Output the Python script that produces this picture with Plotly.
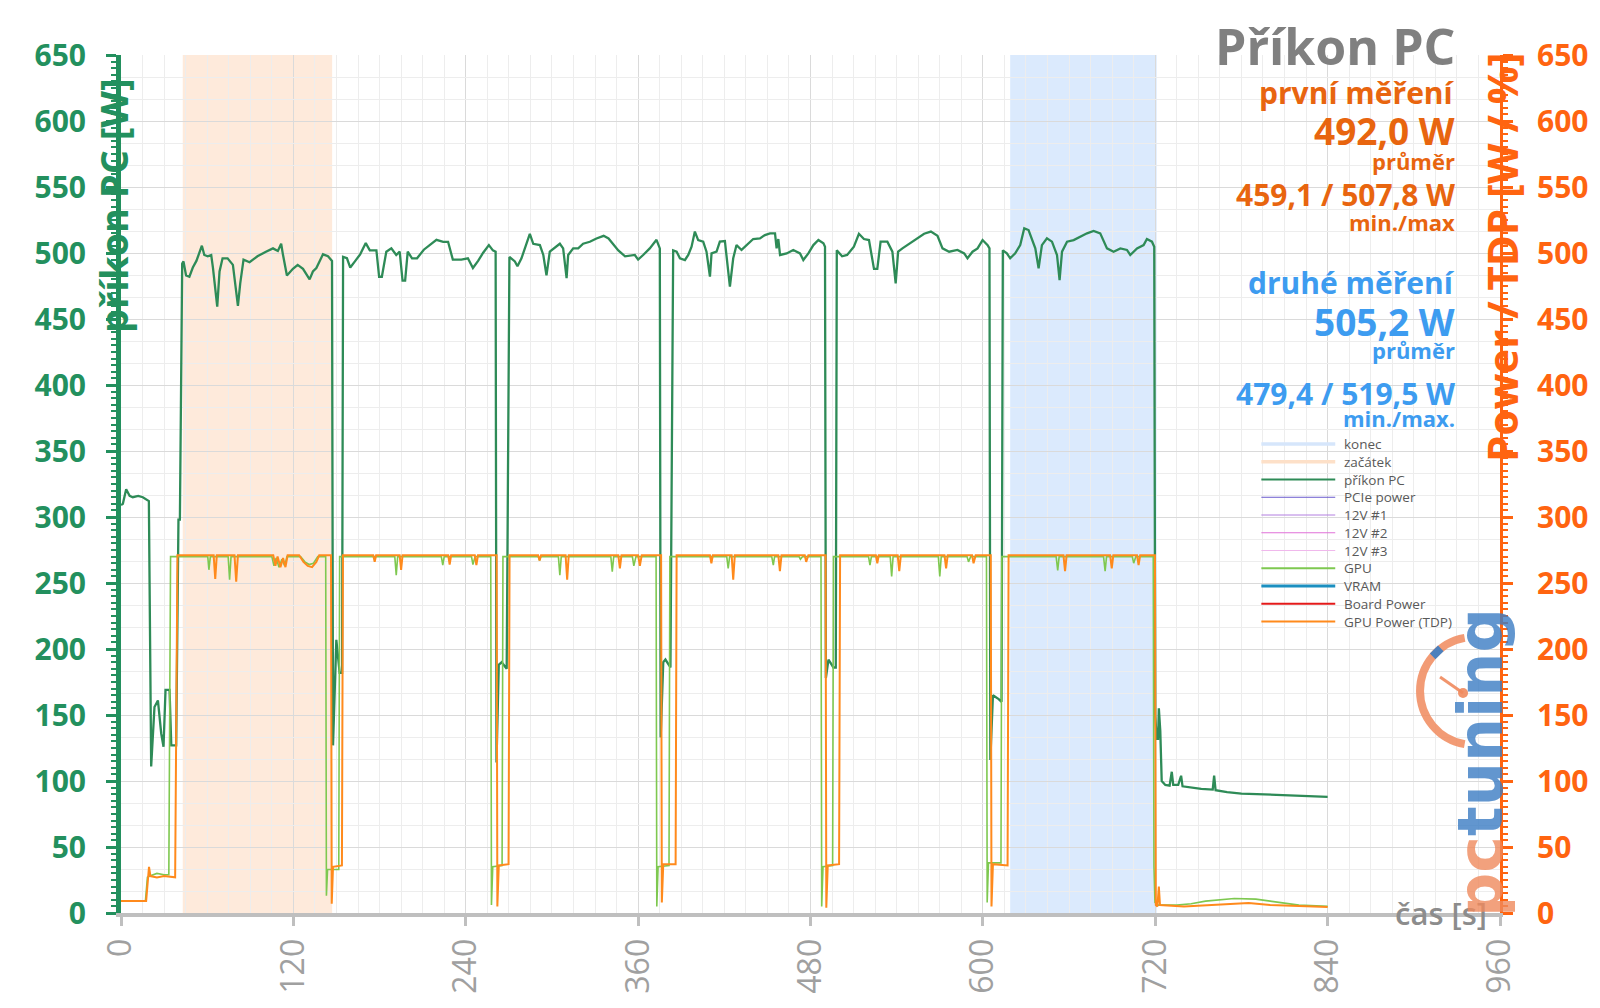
import math
import plotly.graph_objects as go

# ---------------- data ----------------
x_ticks = [0, 120, 240, 360, 480, 600, 720, 840, 960]
y_ticks = [0, 50, 100, 150, 200, 250, 300, 350, 400, 450, 500, 550, 600, 650]

zacatek_range = [43, 147]
konec_range = [619, 721]

pc_t = [0, 1.3, 3.6, 6, 8.2, 12, 15.2, 19.4, 21, 23.3, 25.7, 28, 29.6, 31, 33.8, 35, 38.4, 40, 41, 42.6,
        43.5, 45.3, 47.6, 50, 52.5, 56.3, 58, 60.4, 62.8, 64, 67, 68.6, 70.7, 74.2, 77.9, 81.4, 83, 85.3, 89.5,
        95, 100.9, 105.8, 109.2, 111.5, 112.7, 115.5, 119.7, 123, 126.7, 131.3, 133.6, 136, 140.6, 144.1, 146.9,
        147.6, 149.9, 150.8, 152.2, 153.9, 154.6,
        157.3, 159.6, 163.1, 166.5, 170.4, 173.2, 177.8, 179.7, 181.6, 184.7, 188.2, 191.6, 194, 196, 197.8,
        199.6, 202.6, 206.1, 210.8, 213.8, 219.6, 224.3, 227.7, 231, 236.9, 241.5, 245, 248.6, 252, 256.1,
        258.9, 260.8,
        261.4, 263, 265, 268.5, 270.4,
        274.2, 276, 278.8, 284.6, 287, 291.6, 294, 296.2, 298.5, 305.5, 307.8, 310.2, 311.3, 314.8, 318.3,
        321.7, 326.4, 331, 336, 339.4, 346.2, 350.9, 357.7, 360, 363.5, 368.1, 372.8, 375.1,
        375.7, 377.5, 379, 382.5, 384.4,
        386.8, 389.1, 392.6, 394.9, 397.2, 399.5, 401.8, 405.3, 407.6, 410, 411.1, 414.6, 416.9, 420.4, 423.9,
        426.2, 428.5, 432, 435.5, 440.1, 444.8, 448.3, 451.8, 455.3, 456.4, 457.6, 458.8, 463.4, 468, 472.7,
        475, 478.5, 482, 485.5, 489, 490.1,
        490.7, 492.5, 496, 497.6, 498.3,
        502, 505.5, 510.2, 513.7, 517.2, 520.7, 524.2, 526.5, 528.8, 533.5, 537, 539.3, 541, 544, 547.5,
        553.3, 559.1, 563.8, 568.4, 571.9, 576.5, 582.3, 587, 589.3, 592.8, 596.3, 599.8, 603.3, 604.6,
        605.2, 607, 611, 613, 613.9,
        616.7, 619, 622.5, 626, 628.8, 631.8, 634.1, 636.5, 638.8, 641.1, 644.6, 648.1, 651.6, 653.4, 655.1,
        658.6, 663.2, 667.8, 672.5, 677.1, 681.7, 686.4, 691, 695.7, 700.3, 702.6, 707.3, 711.9, 714.2, 717.7,
        719.3,
        720, 721, 722, 722.5, 723.5, 724.5, 727, 730, 731.5, 732.5, 736, 738, 739, 745, 752, 760, 761, 762,
        770, 780, 790, 800, 815, 830, 840]
pc_w = [309, 310, 321, 316, 315, 316, 315, 312, 111, 156, 161, 136, 126, 169, 169, 127, 127, 298, 298, 492,
        493.6, 483, 482, 489, 494, 505.5, 498.5, 497.5, 498.5, 489, 459.4, 486, 496, 496, 491, 460, 477, 495, 493,
        497.5, 501, 503.5, 501.5, 507, 499, 483, 488, 491, 488, 480, 486, 488.6, 499, 497.5, 494,
        127, 207, 195, 182, 182, 497,
        496, 489, 494, 499, 507.5, 502, 502, 482, 482, 501, 503.5, 498.5, 501, 479, 479,
        501, 496, 496, 502.5, 505, 510, 508.5, 508.5, 495, 495, 496, 488.6, 494, 500, 506,
        502, 501,
        114, 188, 190, 185, 497,
        493.6, 490, 496, 514.5, 507, 506, 498.5, 483, 501, 507, 503.5, 481, 498.5, 503.5, 503.5,
        507, 508.5, 511, 513, 511, 502, 497.5, 498.5, 495, 498.5, 503.5, 510, 503.5,
        133, 190, 192, 186, 502,
        501, 496, 494.7, 498.5, 504.8, 516.2, 509.8, 508.6, 501, 482.1, 499.7, 501, 508.6, 509.1, 474.5,
        496, 506, 502.3, 506, 510.6, 511.1, 513.6, 514.9, 514.9, 503.5, 510.6, 498.5, 499.7, 502.3, 499.7,
        494.7, 499.7, 506, 509.8, 507.3, 504.8,
        178, 192, 186, 186, 502,
        497.5, 498.5, 504.8, 514.6, 510.6, 509.8, 488, 488, 508.6, 508.6, 501, 477, 501, 503.5, 506,
        509.8, 514.6, 516.2, 513.1, 503.5, 501, 502.3, 499.7, 496, 501, 503.5, 509.8, 506, 503.5,
        116, 165, 162, 160, 502,
        499.7, 496, 499.7, 506, 518.7, 517.4, 509.8, 503.5, 488.4, 506, 511.1, 508.6, 498.5, 479.5, 501,
        508.6, 509.8, 512.4, 514.9, 516.7, 514.9, 503.5, 501, 503.5, 502.3, 498.5, 503.5, 506, 510.6, 508.6,
        504.8,
        150, 132, 132, 155, 138, 100, 97, 96.5, 107, 97, 97, 104, 96, 95, 94, 93.5, 104, 93,
        91.5, 90.5, 90, 89.5, 89, 88.5, 88]

gpu_t = [0, 17, 18.4, 20, 25, 30, 33.3, 34.5,
         60.4, 61.2, 62.2, 74.6, 75.6, 76.6, 105, 106.5, 108, 110, 112, 114, 115.5, 125, 128, 131, 134, 137, 142.5,
         143, 143.8, 151.6, 152.2,
         190.6, 191.6, 192.6, 223, 224, 225, 244, 245, 246.5, 257.4,
         257.9, 258.8, 265.3, 265.9,
         290.5, 291.4, 292.3, 304.5, 305.5, 306.5, 341, 342, 343, 356, 357, 358.5, 372.5,
         373, 373.9, 381.5, 382.1,
         421.7, 422.7, 423.7, 453, 454.1, 455, 472, 473, 474.5, 487.3,
         487.8, 488.7, 495.4, 496,
         520.4, 521.4, 522.4, 535.5, 536.5, 537.5, 569, 570, 571, 589, 590, 591.5, 602.5,
         603, 603.9, 612.6, 613.2,
         651, 652.1, 653.1, 684, 685.1, 686.1, 704, 705, 706.5, 718.6,
         719.1, 719.8, 722, 735, 745, 755, 765, 775, 790, 800, 810, 820, 840]
gpu_w = [9, 9, 27, 28, 30, 29, 29, 270,
         270, 260, 270, 270, 252.5, 270, 270, 263, 269, 262, 268, 263, 270, 270, 266, 264, 265, 270, 270,
         13, 33, 33, 270,
         270, 256, 270, 270, 263.6, 270, 270, 264, 270, 270,
         6, 35, 36, 270,
         270, 267, 270, 270, 256, 270, 270, 258.6, 270, 270, 263, 270, 270,
         5, 35, 36, 270,
         270, 261, 270, 270, 263.6, 270, 270, 268, 270, 270,
         5, 35, 36, 270,
         270, 263.6, 270, 270, 255, 270, 270, 255, 270, 270, 266, 270, 270,
         8, 38, 38, 270,
         270, 259.5, 270, 270, 259, 270, 270, 265, 270, 270,
         35, 8, 6, 6, 7, 9, 10, 11, 10.5, 9, 7, 6, 5]

tdp_t = [0, 17.5, 19.5, 20.5, 25, 30, 37.7, 39.3,
         64.5, 65.6, 66.7, 79, 80.2, 81.4, 106, 107.5, 109, 111, 112.8, 114.5, 116, 124, 127, 130, 133, 136, 138, 146.2,
         146.7, 147.6, 153.8, 154.5,
         175.6, 176.6, 177.6, 194, 195, 196, 227.8, 228.8, 229.8, 246.3, 247.4, 248.5, 261.5,
         262, 263, 269.8, 270.5,
         290.4, 291.4, 292.4, 309.5, 310.6, 311.7, 346.2, 347.3, 348.4, 360, 361.2, 362.5, 376,
         376.5, 377.5, 386.1, 386.8,
         410, 411, 412, 425.1, 426.2, 427.3, 457.6, 458.7, 459.8, 476, 477, 478.5, 490.5,
         491, 492, 499.9, 500.6,
         525.5, 526.5, 527.5, 540.7, 541.8, 542.9, 573.3, 574.4, 575.5, 592.5, 593.5, 595, 605.5,
         606, 607, 617.2, 617.9,
         656.1, 657.2, 658.3, 688.6, 689.7, 690.8, 707.3, 708.4, 709.5, 719.8,
         720.4, 721.5, 722.5, 723.3, 740, 755, 770, 785, 800, 820, 840]
tdp_w = [9, 9, 35, 28, 27, 28, 27, 271,
         271, 253, 271, 271, 251, 271, 271, 263, 270, 262, 269, 262, 271, 271, 266, 263, 262, 266, 271, 271,
         7, 35, 36, 271,
         271, 266, 271, 271, 260, 271, 271, 264, 271, 271, 263.6, 271, 271,
         5, 36, 37, 271,
         271, 267, 271, 271, 252.5, 271, 271, 261, 271, 271, 263, 271, 271,
         8, 37, 37, 271,
         271, 265, 271, 271, 252.5, 271, 271, 259, 271, 271, 266, 271, 271,
         4, 36, 37, 271,
         271, 265, 271, 271, 259, 271, 271, 261, 271, 271, 265, 271, 271,
         5, 37, 36, 271,
         271, 259, 271, 271, 261, 271, 271, 263.6, 271, 271,
         6, 5, 20, 6, 5, 6, 7, 7.5, 6, 5, 4.5]

legend_names = ['konec', 'začátek', 'příkon PC', 'PCIe power', '12V #1', '12V #2', '12V #3',
                'GPU', 'VRAM', 'Board Power', 'GPU Power (TDP)']

# ---------------- styling ----------------
GREEN = '#23905e'
PC_GREEN = '#2e8b57'
ORANGE = '#ff6410'
ORANGE_TXT = '#e8650f'
BLUE_TXT = '#3d9cf0'
GRAY = '#8c8c8c'
FONT = 'Open Sans'

L, R, T, B = 121, 98, 55, 95
W_PX, H_PX = 1600, 1008
PW = W_PX - L - R
PH = H_PX - T - B


def px(x):
    return (x - L) / PW


def py(y):
    return (H_PX - B - y) / PH


legend_style = {
    'konec': ('#d6e6fb', 3.5),
    'začátek': ('#fde0c8', 3.5),
    'příkon PC': (PC_GREEN, 2.2),
    'PCIe power': ('#6a5acd', 1),
    '12V #1': ('#b27fe0', 1),
    '12V #2': ('#e070d8', 1),
    '12V #3': ('#f0b8ec', 1),
    'GPU': ('#7ec850', 2),
    'VRAM': ('#1b8fc0', 3),
    'Board Power': ('#e41a1a', 2.2),
    'GPU Power (TDP)': ('#ff8a1c', 2.2),
}

fig = go.Figure()

# shaded intervals
fig.add_shape(type='rect', xref='x', yref='y', x0=zacatek_range[0], x1=zacatek_range[1],
              y0=y_ticks[0], y1=y_ticks[-1], fillcolor='rgba(252,208,172,0.44)', line_width=0, layer='below')
fig.add_shape(type='rect', xref='x', yref='y', x0=konec_range[0], x1=konec_range[1],
              y0=y_ticks[0], y1=y_ticks[-1], fillcolor='rgba(175,208,250,0.45)', line_width=0, layer='below')

fig.add_trace(go.Scatter(x=pc_t, y=pc_w, mode='lines', name='příkon PC', yaxis='y',
                         line=dict(color=legend_style['příkon PC'][0], width=2.3), hoverinfo='skip'))
fig.add_trace(go.Scatter(x=gpu_t, y=gpu_w, mode='lines', name='GPU', yaxis='y2',
                         line=dict(color=legend_style['GPU'][0], width=1.6), hoverinfo='skip'))
fig.add_trace(go.Scatter(x=tdp_t, y=tdp_w, mode='lines', name='GPU Power (TDP)', yaxis='y2',
                         line=dict(color=legend_style['GPU Power (TDP)'][0], width=2), hoverinfo='skip'))
# invisible trace to activate the minor-grid axis
fig.add_trace(go.Scatter(x=[None], y=[None], yaxis='y3', hoverinfo='skip'))

fig.update_layout(
    width=W_PX, height=H_PX,
    margin=dict(l=L, r=R, t=T, b=B),
    paper_bgcolor='white', plot_bgcolor='white',
    font=dict(family=FONT),
    showlegend=False,
    xaxis=dict(range=[x_ticks[0], x_ticks[-1]], tickvals=x_ticks, tickangle=-90,
               tickfont=dict(size=32, color='#a0a0a0', family=FONT),
               ticks='outside', ticklen=9, tickwidth=3, tickcolor='#bfbfbf',
               showline=True, linecolor='#bfbfbf', linewidth=4,
               showgrid=True, gridcolor='#dadada', gridwidth=1.3, zeroline=False,
               minor=dict(dtick=15, showgrid=True, gridcolor='#ededed', gridwidth=1)),
    yaxis=dict(range=[y_ticks[0], y_ticks[-1]], tickvals=y_ticks,
               tickfont=dict(size=30, color=GREEN, family=FONT, weight='bold'),
               ticks='outside', ticklen=10, tickwidth=3, tickcolor=GREEN, ticklabelstandoff=14,
               showline=True, linecolor=GREEN, linewidth=5,
               showgrid=True, gridcolor='#dadada', gridwidth=1.3, zeroline=False,
               minor=dict(dtick=5, ticks='outside', ticklen=5, tickwidth=2, tickcolor=GREEN, showgrid=False)),
    yaxis2=dict(range=[y_ticks[0], y_ticks[-1]], tickvals=y_ticks, overlaying='y', side='right',
                tickfont=dict(size=30, color=ORANGE, family=FONT, weight='bold'),
                ticks='outside', ticklen=10, tickwidth=3, tickcolor=ORANGE, ticklabelstandoff=18,
                showline=True, linecolor=ORANGE, linewidth=3, showgrid=False, zeroline=False,
                minor=dict(dtick=5, ticks='outside', ticklen=5, tickwidth=2, tickcolor=ORANGE, showgrid=False)),
    yaxis3=dict(range=[y_ticks[0], y_ticks[-1]], overlaying='y', side='left',
                tickvals=[v + d for v in y_ticks[:-1] for d in (50 / 3, 100 / 3)],
                showticklabels=False, ticks='', showline=False, zeroline=False,
                showgrid=True, gridcolor='#ededed', gridwidth=1),
)

ann = []


def add_text(text, x, y, size, color, weight='bold', xanchor='right', angle=0, opacity=1, pad=0):
    ann.append(dict(text=text, x=x, y=y, xref='paper', yref='paper', xanchor=xanchor, yanchor='middle',
                    showarrow=False, textangle=angle, opacity=opacity, borderpad=pad,
                    font=dict(size=size, color=color, family=FONT, weight=weight)))


RX = px(1458)
add_text('Příkon PC', RX, py(46), 50, '#808080')
add_text('první měření', RX, py(92), 30, ORANGE_TXT)
add_text('492,0 W', RX, py(130), 37, ORANGE_TXT)
add_text('průměr', RX, py(161), 22, ORANGE_TXT)
add_text('459,1 / 507,8 W', RX, py(194), 30, ORANGE_TXT)
add_text('min./max', RX, py(222), 22, ORANGE_TXT)
add_text('druhé měření', RX, py(282), 30, BLUE_TXT)
add_text('505,2 W', RX, py(321), 37, BLUE_TXT)
add_text('průměr', RX, py(350), 22, BLUE_TXT)
add_text('479,4 / 519,5 W', RX, py(393), 30, BLUE_TXT)
add_text('min./max.', RX, py(418), 22, BLUE_TXT)

# axis titles
add_text('příkon PC [W]', px(113), py(206), 38, GREEN, xanchor='center', angle=-90)
add_text('Power / TDP [W / %]', px(1503), py(257), 42, ORANGE, xanchor='center', angle=-90)
add_text('čas [s]', px(1490), py(913), 31, GRAY, weight=600)

# manual legend (lines + texts)
LEG_X0, LEG_X1, LEG_TX = 1263, 1337, 1345
LEG_Y0, LEG_DY = 444, 17.75
for i, name in enumerate(legend_names):
    col, wid = legend_style[name]
    yy = py(LEG_Y0 + i * LEG_DY)
    fig.add_shape(type='line', xref='paper', yref='paper', x0=px(LEG_X0), x1=px(LEG_X1), y0=yy, y1=yy,
                  line=dict(color=col, width=wid))
    ann.append(dict(text=name, x=px(LEG_TX), y=yy, xref='paper', yref='paper', xanchor='left',
                    yanchor='middle', showarrow=False, borderpad=0,
                    font=dict(size=13.5, color='#595959', family=FONT)))

# logo
ann.append(dict(text='<span style="color:#f08a5d">pc</span><span style="color:#3b7dc4">tuning</span>',
                x=px(1482), y=py(763), xref='paper', yref='paper', xanchor='center', yanchor='middle',
                showarrow=False, textangle=-90, opacity=0.8,
                font=dict(size=62, color='#3b7dc4', family='DejaVu Sans', weight='bold')))

fig.update_layout(annotations=ann)

# gauge of the logo (arc from 100 deg to 260 deg)
cx, cy = px(1476), py(691)
rr = 54


def pt(a):
    return rr * math.cos(math.radians(a)), rr * math.sin(math.radians(a))


kk = 4 / 3 * math.tan(math.radians(80 / 4)) * rr
p0, p1, p2 = pt(100), pt(180), pt(260)
t0 = (-math.sin(math.radians(100)), math.cos(math.radians(100)))
t2 = (-math.sin(math.radians(260)), math.cos(math.radians(260)))
arc = (f'M {p0[0]:.2f},{p0[1]:.2f} '
       f'C {p0[0] + kk * t0[0]:.2f},{p0[1] + kk * t0[1]:.2f} {p1[0]:.2f},{kk:.2f} {p1[0]:.2f},{p1[1]:.2f} '
       f'C {p1[0]:.2f},{-kk:.2f} {p2[0] - kk * t2[0]:.2f},{p2[1] - kk * t2[1]:.2f} {p2[0]:.2f},{p2[1]:.2f}')
fig.add_shape(type='path', xref='paper', yref='paper', xsizemode='pixel', ysizemode='pixel',
              xanchor=cx, yanchor=cy, path=arc,
              line=dict(color='rgba(240,138,93,0.85)', width=8))
b0, b1 = pt(128), pt(140)
fig.add_shape(type='line', xref='paper', yref='paper', xsizemode='pixel', ysizemode='pixel',
              xanchor=cx, yanchor=cy, x0=b0[0], y0=b0[1], x1=b1[0], y1=b1[1],
              line=dict(color='rgba(59,125,196,0.9)', width=8))
fig.add_shape(type='line', xref='paper', yref='paper', xsizemode='pixel', ysizemode='pixel',
              xanchor=cx, yanchor=cy, x0=-34, y0=14, x1=-11, y1=-2,
              line=dict(color='rgba(240,138,93,0.9)', width=3))
fig.add_shape(type='circle', xref='paper', yref='paper', xsizemode='pixel', ysizemode='pixel',
              xanchor=cx, yanchor=cy, x0=-16, y0=-7, x1=-6, y1=3,
              fillcolor='rgba(240,138,93,0.9)', line_width=0)

fig.write_html('out.html')
